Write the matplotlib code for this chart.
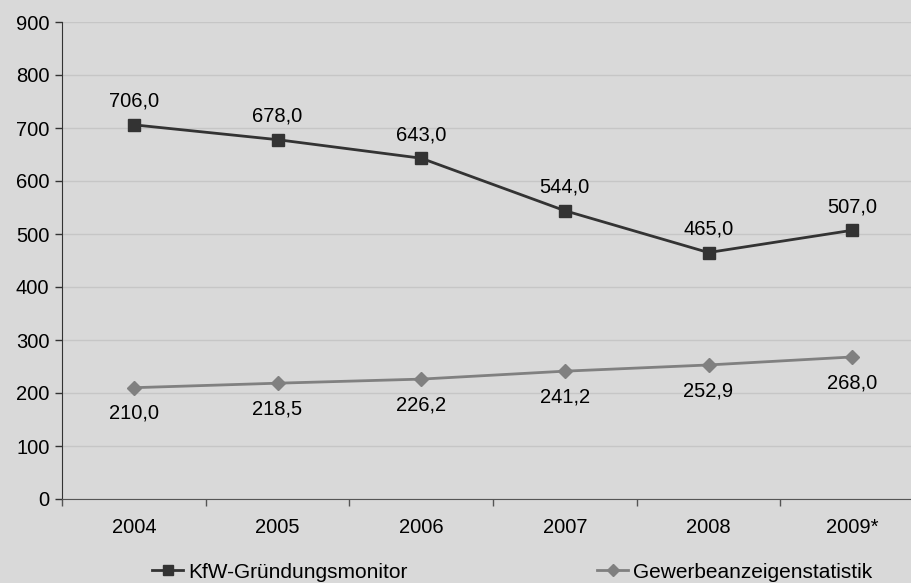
import matplotlib.pyplot as plt
import numpy as np

plt.rcParams['font.family'] = ['Liberation Sans', 'DejaVu Sans']

years = ["2004", "2005", "2006", "2007", "2008", "2009*"]
kfw = [706.0, 678.0, 643.0, 544.0, 465.0, 507.0]
gewerbe = [210.0, 218.5, 226.2, 241.2, 252.9, 268.0]

bg = "#d9d9d9"
fs = 14.5
fig = plt.figure(figsize=(9.11, 5.83), dpi=100, facecolor=bg)
ax = fig.add_axes([62 / 911, 84 / 583, 862 / 911, 477 / 583])
ax.set_facecolor(bg)

x = np.arange(len(years))
l1, = ax.plot(x, kfw, color="#333333", lw=2, marker="s", ms=9,
              label="KfW-Gründungsmonitor")
l2, = ax.plot(x, gewerbe, color="#808080", lw=2, marker="D", ms=7.5,
              label="Gewerbeanzeigenstatistik")

def fmt(v):
    return f"{v:.1f}".replace(".", ",")

for xi, v in zip(x, kfw):
    ax.annotate(fmt(v), (xi, v), xytext=(0, 13), textcoords="offset points",
                ha="center", va="baseline", fontsize=fs)
for xi, v in zip(x, gewerbe):
    ax.annotate(fmt(v), (xi, v), xytext=(0, -22.5), textcoords="offset points",
                ha="center", va="baseline", fontsize=fs)

ax.set_xlim(-0.5, len(years) - 0.5)
ax.set_ylim(0, 900)
ax.set_yticks(range(0, 901, 100))
ax.tick_params(axis="y", labelsize=fs, length=5, width=1, color="#333333", pad=4)
ax.set_xticks(x)
ax.set_xticklabels(years)
ax.set_xticks(np.arange(-0.5, len(years), 1), minor=True)
ax.tick_params(axis="x", which="major", length=0, labelsize=fs, pad=14)
ax.tick_params(axis="x", which="minor", length=5, width=1, color="#555555")

ax.grid(axis="y", color="#c6c6c6", lw=1)
ax.set_axisbelow(True)
for s in ["top", "right"]:
    ax.spines[s].set_visible(False)
ax.spines["left"].set_color("#333333")
ax.spines["bottom"].set_color("#555555")

# one legend entry per series, spread along the bottom
for handle, x0 in [(l1, 152), (l2, 597)]:
    fig.legend(handles=[handle], loc="center left",
               bbox_to_anchor=(x0 / 911, 11 / 583), frameon=False,
               fontsize=15, handlelength=1.5, handletextpad=0.25,
               markerscale=0.8, borderpad=0, borderaxespad=0)

fig.savefig("out.png", dpi=100, facecolor=bg)
